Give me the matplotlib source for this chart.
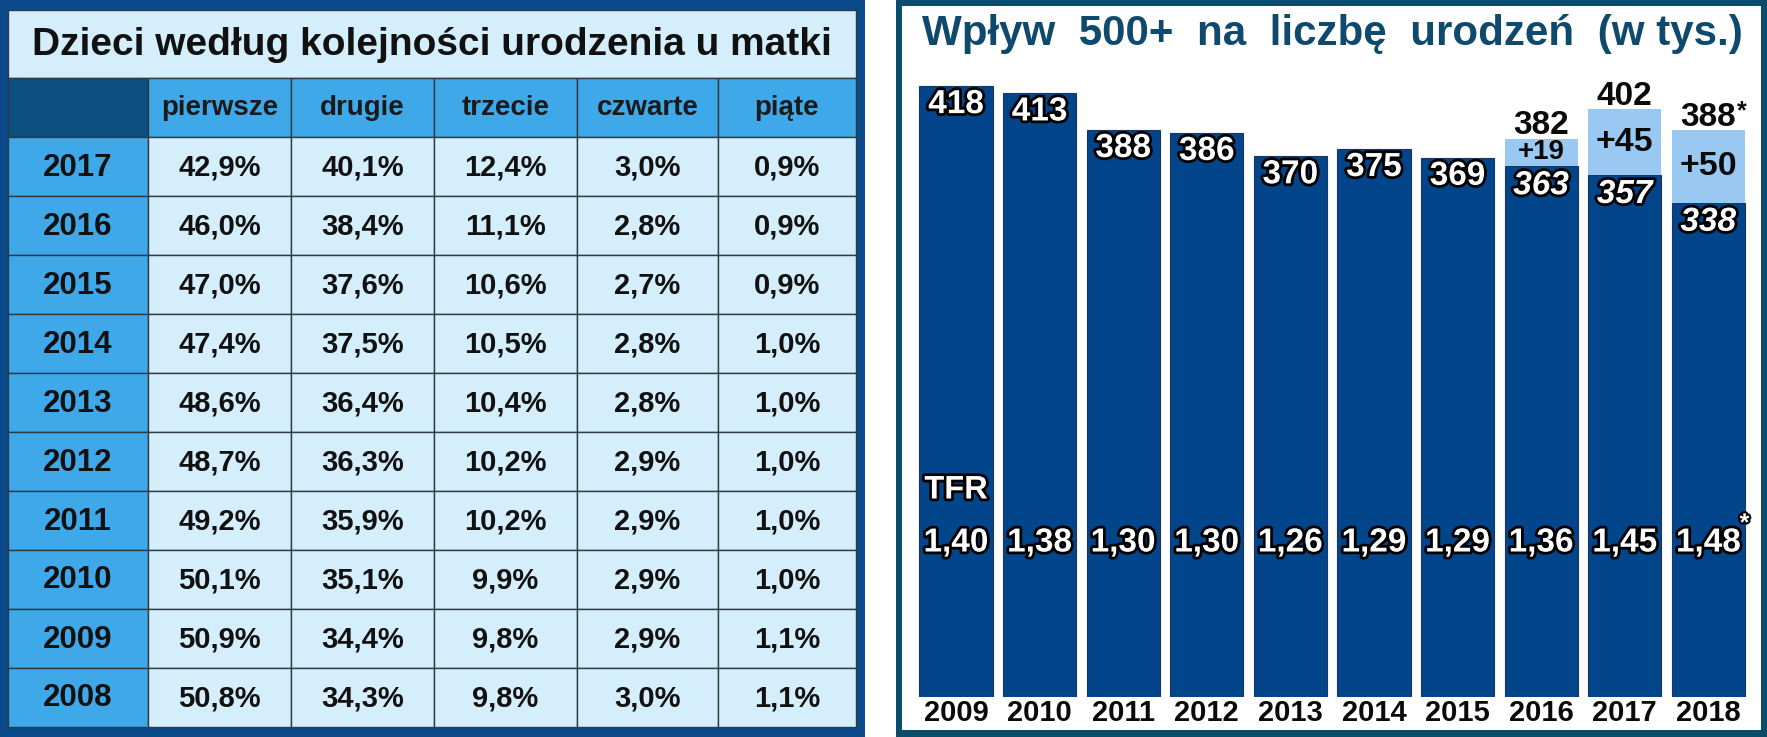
import matplotlib
matplotlib.use("Agg")
import matplotlib.pyplot as plt
from matplotlib.patches import Rectangle
import matplotlib.patheffects as pe
import matplotlib.transforms as mtransforms

plt.rcParams['font.family'] = ['Liberation Sans', 'DejaVu Sans']

# ---------------- data ----------------
table_title = "Dzieci według kolejności urodzenia u matki"
col_labels = ["pierwsze", "drugie", "trzecie", "czwarte", "piąte"]
table_years = ["2017", "2016", "2015", "2014", "2013", "2012", "2011", "2010", "2009", "2008"]
pierwsze = [42.9, 46.0, 47.0, 47.4, 48.6, 48.7, 49.2, 50.1, 50.9, 50.8]
drugie = [40.1, 38.4, 37.6, 37.5, 36.4, 36.3, 35.9, 35.1, 34.4, 34.3]
trzecie = [12.4, 11.1, 10.6, 10.5, 10.4, 10.2, 10.2, 9.9, 9.8, 9.8]
czwarte = [3.0, 2.8, 2.7, 2.8, 2.8, 2.9, 2.9, 2.9, 2.9, 3.0]
piate = [0.9, 0.9, 0.9, 1.0, 1.0, 1.0, 1.0, 1.0, 1.1, 1.1]

chart_title = "Wpływ  500+  na  liczbę  urodzeń  (w tys.)"
bar_years = ["2009", "2010", "2011", "2012", "2013", "2014", "2015", "2016", "2017", "2018"]
births_base = [418, 413, 388, 386, 370, 375, 369, 363, 357, 338]
births_boost = [0, 0, 0, 0, 0, 0, 0, 19, 45, 50]
births_total = [418, 413, 388, 386, 370, 375, 369, 382, 402, 388]
tfr = [1.40, 1.38, 1.30, 1.30, 1.26, 1.29, 1.29, 1.36, 1.45, 1.48]
estimated = [False] * 9 + [True]

# ---------------- figure ----------------
W, H = 1767, 737
fig = plt.figure(figsize=(W / 100, H / 100), dpi=100)
bg = fig.add_axes([0, 0, 1, 1])
bg.set_xlim(0, W)
bg.set_ylim(H, 0)
bg.axis('off')

def rect(x0, y0, x1, y1, fc, ec='none', lw=0, z=1):
    bg.add_patch(Rectangle((x0, y0), x1 - x0, y1 - y0, facecolor=fc,
                           edgecolor=ec, linewidth=lw, zorder=z))

# ---- left panel (table) ----
rect(0, 0, 865, H, '#0b4a8a')
tx0, tx1 = 8, 856
title_top, head_top, head_bot, bot = 10, 78, 137, 727
col_edges = [8, 148, 291, 434, 577, 718, 856]
light = '#d5eefc'
bright = '#3fa8e8'
grid = '#2e3a44'

rect(tx0, title_top, tx1, head_top, light, grid, 1.0)
bg.text((tx0 + tx1) / 2, (title_top + head_top) / 2 + 1, table_title,
        ha='center', va='center', fontsize=28, fontweight='bold', color='#111111', zorder=5)

rect(col_edges[0], head_top, col_edges[1], head_bot, '#0b507e', grid, 1.0)
for j, lab in enumerate(col_labels):
    rect(col_edges[j + 1], head_top, col_edges[j + 2], head_bot, bright, grid, 1.0)
    bg.text((col_edges[j + 1] + col_edges[j + 2]) / 2, (head_top + head_bot) / 2,
            lab, ha='center', va='center', fontsize=20, fontweight='bold',
            color='#1a1a1a', zorder=5)

cols = [pierwsze, drugie, trzecie, czwarte, piate]
row_h = (bot - head_bot) / len(table_years)
for i, yr in enumerate(table_years):
    y0 = head_bot + i * row_h
    y1 = y0 + row_h
    rect(col_edges[0], y0, col_edges[1], y1, bright, grid, 1.0)
    bg.text((col_edges[0] + col_edges[1]) / 2, (y0 + y1) / 2 + 1, yr,
            ha='center', va='center', fontsize=22.5, fontweight='bold',
            color='#111111', zorder=5)
    for j, col in enumerate(cols):
        rect(col_edges[j + 1], y0, col_edges[j + 2], y1, light, grid, 1.0)
        txt = f"{col[i]:.1f}".replace('.', ',') + '%'
        bg.text((col_edges[j + 1] + col_edges[j + 2]) / 2, (y0 + y1) / 2 + 1, txt,
                ha='center', va='center', fontsize=21, fontweight='bold',
                color='#111111', zorder=5)

# ---- right panel (bars) ----
rect(896, 0, W, H, '#0b4b6c')
rect(902, 6, 1761, 730, 'white')
bg.text(922, 34, chart_title, ha='left', va='center', fontsize=30.3,
        fontweight='bold', color='#0f4a6e', zorder=5)

base_px = 697
px_per_unit = 1.462
ymax = 422
ax_h = ymax * px_per_unit
spacing = 83.6
c0 = 956
xlo, xhi = -0.6, 9.6
ax = fig.add_axes([(c0 + xlo * spacing) / W, (H - base_px) / H,
                   (xhi - xlo) * spacing / W, ax_h / H])
ax.set_xlim(xlo, xhi)
ax.set_ylim(0, ymax)
ax.patch.set_alpha(0)
ax.axis('off')

x = list(range(len(bar_years)))
dark = '#03458a'
lightbar = '#99c9f3'
ax.bar(x, births_base, width=0.875, color=dark, edgecolor='#1b3563', linewidth=0.8, zorder=2)
ax.bar(x, births_boost, bottom=births_base, width=0.875, color=lightbar,
       edgecolor='none', linewidth=0, zorder=2)

stroke = [pe.withStroke(linewidth=4, foreground='black')]
for i in x:
    if births_boost[i] == 0:
        ax.annotate(str(births_base[i]), (i, births_base[i]), xytext=(0, -13.5),
                    textcoords='offset points', ha='center', va='center',
                    fontsize=24, fontweight='bold', color='white', path_effects=stroke, zorder=5)
    else:
        ax.annotate(str(births_base[i]), (i, births_base[i]), xytext=(0, -14),
                    textcoords='offset points', ha='center', va='center',
                    fontsize=24, fontweight='bold', fontstyle='italic', color='white',
                    path_effects=stroke, zorder=5)
        fs = 20 if births_boost[i] < 30 else 24.5
        ax.text(i, births_base[i] + births_boost[i] / 2, f"+{births_boost[i]}",
                ha='center', va='center', fontsize=fs, fontweight='bold',
                color='#0a0a0a', zorder=5)
        ax.annotate(str(births_total[i]), (i, births_total[i]), xytext=(0, 3),
                    textcoords='offset points', ha='center', va='baseline',
                    fontsize=24, fontweight='bold', color='#0a0a0a',
                    annotation_clip=False, zorder=5)
        if estimated[i]:
            ax.annotate("*", (i, births_total[i]), xytext=(24, 13),
                        textcoords='offset points', ha='center', va='center',
                        fontsize=18, fontweight='bold', color='#0a0a0a',
                        annotation_clip=False, zorder=5)

trans = mtransforms.blended_transform_factory(ax.transData, ax.transAxes)
ax.text(0, (base_px - 490) / ax_h, "TFR", transform=trans, ha='center', va='center',
        fontsize=23.5, fontweight='bold', color='white', path_effects=stroke, zorder=5)
tfr_y = (base_px - 543) / ax_h
for i in x:
    ax.text(i, tfr_y, f"{tfr[i]:.2f}".replace('.', ','), transform=trans,
            ha='center', va='center', fontsize=24, fontweight='bold',
            color='white', path_effects=stroke, zorder=5)
    if estimated[i]:
        ax.annotate("*", (i, tfr_y), xycoords=trans, xytext=(26, 14),
                    textcoords='offset points', ha='center', va='center',
                    fontsize=18, fontweight='bold', color='white',
                    path_effects=[pe.withStroke(linewidth=3, foreground='black')],
                    annotation_clip=False, zorder=5)
    ax.text(i, (base_px - 713) / ax_h, bar_years[i], transform=trans,
            ha='center', va='center', fontsize=21, fontweight='bold',
            color='#0a0a0a', clip_on=False, zorder=5)

fig.savefig("out.png", dpi=100)
